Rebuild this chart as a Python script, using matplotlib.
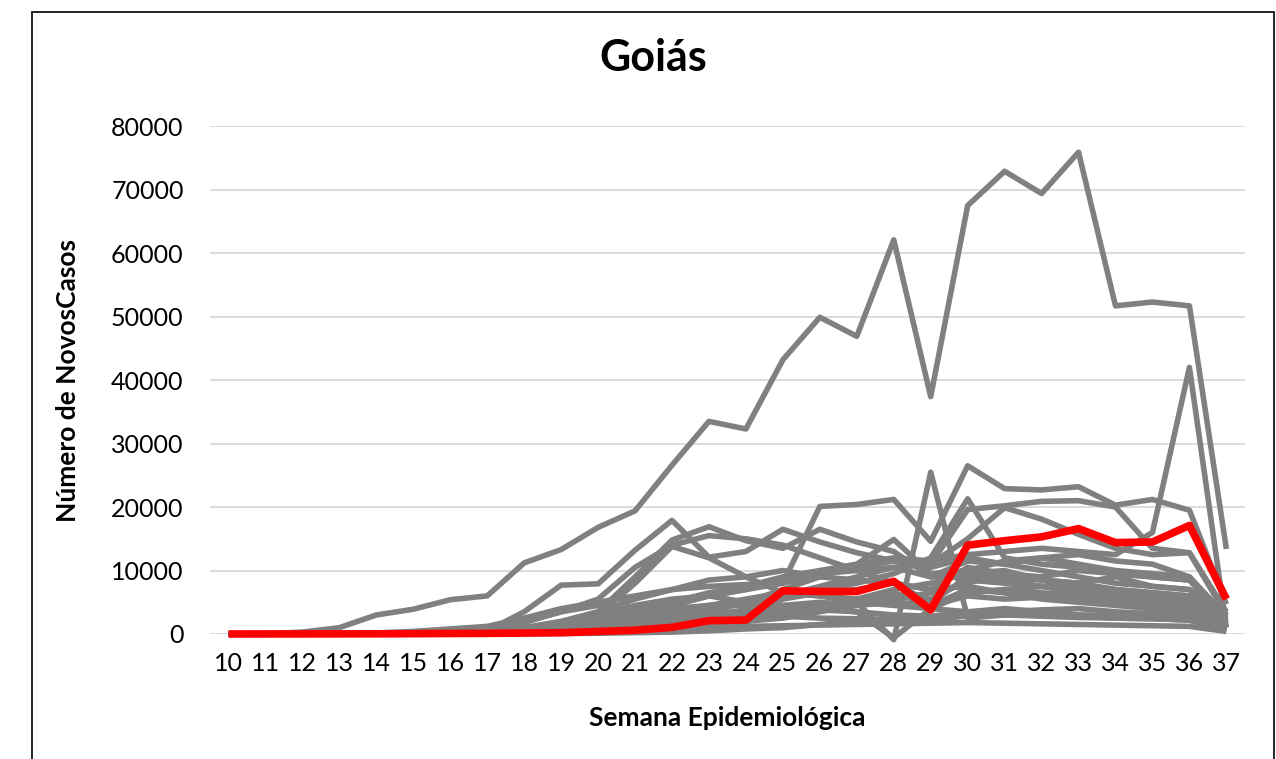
import numpy as np
import matplotlib
matplotlib.use('Agg')
from matplotlib import pyplot as plt
from matplotlib.patches import Rectangle

plt.rcParams['font.family'] = ['Lato', 'DejaVu Sans']

semanas = list(range(10, 38))

# Goiás (red line)
goias = [0, 5, 10, 20, 30, 50, 80, 100, 150, 200, 400, 600, 1050, 2100, 2200, 6800,
         6700, 6700, 8300, 3800, 14000, 14700, 15300, 16600, 14400, 14500, 17100, 5500]

# other states (gray lines), weeks 10..37
sp = [0, 50, 300, 1000, 3000, 3900, 5400, 6000, 11200, 13300, 16800, 19400, 26600, 33500,
      32300, 43200, 49900, 46900, 62100, 37400, 67500, 72900, 69400, 75900, 51700, 52300, 51700, 13400]
uf02 = [0, 0, 10, 30, 80, 150, 300, 500, 900, 1500, 2500, 3500, 5000, 6500, 7500, 9000,
        10000, 11000, 12000, 11500, 12500, 13000, 13500, 13000, 12500, 16000, 42000, 1000]
uf03 = [0, 0, 5, 20, 50, 120, 250, 500, 1000, 2000, 3500, 5500, 7000, 7500, 7800, 8000,
        20100, 20400, 21200, 14600, 26500, 22900, 22700, 23200, 20300, 21200, 19500, 4700]
uf04 = [0, 0, 5, 10, 40, 100, 250, 500, 3500, 7700, 7900, 13200, 17900, 12100, 13000, 16500,
        14500, 12800, 11500, 10500, 12000, 11000, 10000, 9000, 8000, 7500, 7000, 2500]
uf05 = [0, 0, 0, 10, 30, 80, 200, 400, 900, 1800, 3500, 9000, 14800, 16900, 14700, 13500,
        16500, 14500, 13000, 9000, 9500, 9000, 8500, 8000, 7000, 6500, 6000, 2000]
uf06 = [0, 0, 0, 5, 20, 60, 150, 300, 600, 1200, 2000, 3000, 4500, 6000, 7000, 8500,
        9500, 10500, 11500, 11000, 19600, 20200, 20900, 21000, 20000, 13500, 12800, 3500]
uf07 = [0, 0, 0, 5, 20, 50, 100, 200, 400, 800, 1500, 2500, 3500, 4500, 5500, 6500,
        6000, 5000, -900, 25500, 2500, 3000, 3500, 3000, 2800, 2500, 2300, 800]
uf08 = [0, 0, 0, 5, 10, 30, 80, 150, 300, 600, 1200, 2000, 3000, 4000, 5000, 6000,
        7000, 8000, 9500, 12000, 21300, 12000, 11000, 10500, 9500, 9000, 8500, 2500]
uf09 = [0, 0, 0, 5, 10, 30, 80, 150, 300, 600, 1000, 1800, 2800, 4000, 5000, 6000,
        7500, 9000, 10500, 11000, 15000, 19900, 18100, 15700, 13500, 12500, 12800, 3000]
uf10 = [0, 0, 0, 0, 10, 30, 60, 120, 250, 500, 900, 1500, 2500, 3500, 5000, 7000,
        9000, 11000, 14900, 9500, 10000, 11500, 12000, 12500, 11500, 11000, 9000, 2200]
uf11 = [0, 0, 0, 10, 50, 150, 400, 800, 1800, 3500, 5500, 10500, 14000, 15500, 15000, 14000,
        12000, 10000, 8000, 7000, 7500, 6500, 6000, 5800, 5000, 4500, 4000, 1000]
uf12 = [0, 0, 0, 5, 20, 60, 150, 300, 700, 1500, 3000, 8000, 13800, 12000, 9000, 6500,
        6000, 5500, 5000, 4500, 6500, 7000, 7500, 7000, 6500, 6000, 5500, 1200]
uf13 = [0, 0, 5, 20, 80, 200, 500, 1000, 2000, 3500, 4500, 4200, 4000, 3500, 3000, 2800,
        2500, 2400, 2300, 2500, 2800, 3000, 2800, 2600, 2500, 2400, 2200, 900]
uf14 = [0, 0, 10, 50, 150, 400, 800, 1200, 2500, 4000, 5000, 6000, 7000, 8500, 9000, 10000,
        9000, 8500, 8000, 7000, 10500, 9500, 9000, 10000, 9500, 9000, 8500, 2000]
uf15 = [0, 0, 0, 5, 20, 50, 120, 250, 500, 1000, 1800, 3000, 4500, 6000, 7000, 8000,
        9500, 10000, 10500, 9000, 11500, 11000, 12000, 11000, 10000, 9500, 9000, 2800]
uf16 = [0, 0, 0, 0, 10, 50, 150, 400, 900, 1800, 3000, 4500, 5500, 6000, 5000, 4500,
        4000, 3500, 3000, 2800, 3500, 4000, 3500, 3000, 2800, 2500, 2200, 500]
uf17 = [0, 0, 0, 5, 20, 60, 150, 300, 700, 1500, 2500, 3500, 4000, 4500, 4500, 4500,
        5000, 4500, 5000, 4500, 6000, 5500, 5800, 5500, 5000, 5200, 4500, 1000]
uf18 = [0, 0, 5, 20, 50, 80, 100, 120, 200, 300, 500, 700, 1000, 1500, 2000, 3000,
        4500, 5500, 7000, 8000, 9500, 10000, 8500, 7500, 6500, 5500, 5000, 1500]
uf19 = [0, 0, 0, 5, 20, 40, 60, 100, 150, 250, 400, 600, 1000, 1500, 2000, 2500,
        3500, 4500, 5500, 6500, 8000, 9500, 8500, 8000, 9000, 7500, 7000, 2000]
uf20 = [0, 0, 0, 5, 10, 30, 50, 80, 150, 250, 400, 700, 1200, 1800, 2500, 3500,
        4500, 5000, 6000, 5500, 8500, 8000, 7500, 7800, 7000, 6500, 6000, 1500]
uf21 = [0, 0, 0, 5, 10, 40, 80, 200, 400, 800, 1200, 1800, 2500, 3000, 3500, 4000,
        4500, 5000, 4500, 4000, 6500, 7000, 6500, 6000, 5500, 5000, 5200, 1200]
uf22 = [0, 0, 0, 0, 5, 10, 20, 40, 80, 150, 250, 500, 800, 1200, 2000, 3000,
        4000, 5500, 6500, 4500, 7000, 6500, 5500, 5000, 4500, 4000, 3500, 1000]
uf23 = [0, 0, 0, 0, 5, 10, 15, 20, 40, 80, 120, 200, 300, 500, 800, 1000,
        1500, 2000, 2500, 2000, 3000, 3500, 3800, 4000, 3500, 3200, 3000, 1000]
uf24 = [0, 0, 5, 20, 50, 80, 100, 150, 200, 300, 500, 800, 1500, 2500, 3500, 5500,
        6500, 7000, 8000, 5000, 9000, 8500, 7500, 6500, 6000, 5500, 5000, 1500]
uf25 = [0, 0, 0, 5, 10, 30, 60, 120, 250, 500, 900, 1500, 2200, 3000, 3800, 4000,
        3800, 3500, -600, 4000, 3500, 3200, 3000, 2800, 2500, 2400, 2200, 700]
uf26 = [0, 0, 0, 0, 5, 10, 20, 50, 100, 200, 400, 600, 800, 1000, 1200, 1300,
        1400, 1500, 1600, 1700, 1800, 1700, 1600, 1500, 1400, 1300, 1200, 400]

outros = [sp, uf02, uf03, uf04, uf05, uf06, uf07, uf08, uf09, uf10, uf11, uf12, uf13,
          uf14, uf15, uf16, uf17, uf18, uf19, uf20, uf21, uf22, uf23, uf24, uf25, uf26]

fig = plt.figure(figsize=(12.76, 7.59), dpi=100)
ax = fig.add_axes([0.1646, 0.1647, 0.811, 0.669])

for s in outros:
    ax.plot(semanas, s, color='#808080', lw=4.0, solid_joinstyle='round',
            solid_capstyle='butt', clip_on=False, zorder=2)
ax.plot(semanas, goias, color='#ff0000', lw=5.5, solid_joinstyle='round',
        solid_capstyle='butt', clip_on=False, zorder=3)

ax.set_xlim(9.5, 37.5)
ax.set_ylim(0, 80000)
ax.set_xticks(semanas)
ax.set_xticklabels([str(w) for w in semanas])
ax.set_yticks(np.arange(0, 80001, 10000))
ax.yaxis.grid(True, color='#d9d9d9', lw=1.3, zorder=0)
ax.set_axisbelow(True)
for sp_ in ax.spines.values():
    sp_.set_visible(False)
ax.tick_params(axis='both', length=0, labelsize=18)
ax.tick_params(axis='y', pad=19)
ax.tick_params(axis='x', pad=13)

ax.set_xlabel('Semana Epidemiológica', fontsize=19, fontweight='bold', labelpad=22)
ax.set_ylabel('Número de NovosCasos', fontsize=19, fontweight='bold', labelpad=22)
fig.text(0.512, 0.923, 'Goiás', fontsize=31, fontweight='bold', ha='center', va='center')

fig.patches.append(Rectangle((32 / 1276, -0.05), 1242 / 1276, 0.05 + 747 / 759,
                             transform=fig.transFigure, fill=False, ec='black', lw=1.2))

fig.savefig('out.png', dpi=100)
